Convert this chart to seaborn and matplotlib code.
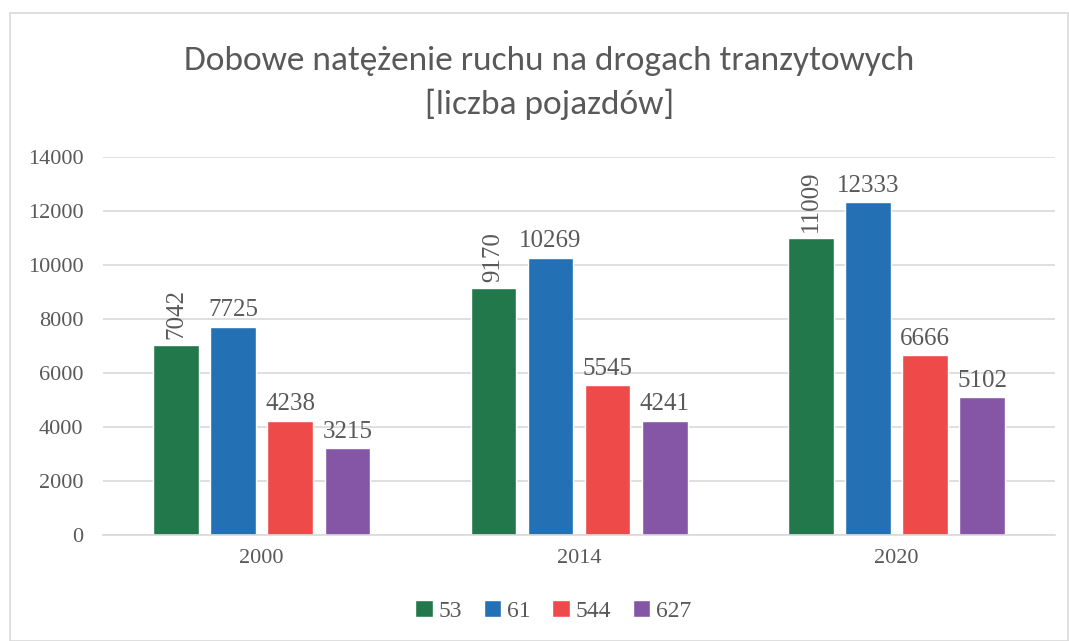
import numpy as np
import pandas as pd
import matplotlib
matplotlib.use("Agg")
import matplotlib.pyplot as plt
import seaborn as sns
from matplotlib.patches import Rectangle

# ---- data ----
years = ["2000", "2014", "2020"]
roads = ["53", "61", "544", "627"]
road_53 = [7042, 9170, 11009]
road_61 = [7725, 10269, 12333]
road_544 = [4238, 5545, 6666]
road_627 = [3215, 4241, 5102]
colors = ["#23784b", "#2370b5", "#ef4a4a", "#8656a6"]

df = pd.DataFrame({
    "rok": years * 4,
    "droga": [r for r in roads for _ in years],
    "liczba": road_53 + road_61 + road_544 + road_627,
})

sns.set_theme(style="white")
plt.rcParams["font.family"] = ["Liberation Serif", "DejaVu Serif"]
gray = "#595959"

fig = plt.figure(figsize=(10.69, 6.41), dpi=100)
ax = fig.add_axes([0.0964, 0.165, 0.8906, 0.59])

sns.barplot(data=df, x="rok", y="liczba", hue="droga", hue_order=roads,
            palette=colors, width=0.72, gap=0.2, ax=ax, saturation=1,
            errorbar=None, legend=True)

for i, cont in enumerate(ax.containers):
    if i == 0:
        ax.bar_label(cont, labels=[str(v) for v in road_53], rotation=90,
                     padding=4, fontsize=18, color=gray)
    else:
        ax.bar_label(cont, padding=4, fontsize=18, color=gray)

ax.set_ylim(0, 14000)
ax.set_yticks(np.arange(0, 14001, 2000))
ax.yaxis.grid(True, color="#d9d9d9", linewidth=1.2)
ax.set_axisbelow(True)
for s in ["top", "right", "left"]:
    ax.spines[s].set_visible(False)
ax.spines["bottom"].set_color("#d9d9d9")
ax.spines["bottom"].set_linewidth(1.2)
ax.tick_params(axis="both", length=0, labelsize=16, labelcolor=gray)
ax.tick_params(axis="x", pad=10)
ax.tick_params(axis="y", pad=14)
ax.set_xlabel("")
ax.set_ylabel("")

handles, labels = ax.get_legend_handles_labels()
ax.legend(handles, labels, loc="center", bbox_to_anchor=(0.473, -0.2),
          ncol=4, frameon=False, fontsize=17, labelcolor=gray,
          handlelength=0.75, handleheight=0.75, handletextpad=0.25,
          columnspacing=0.9)

fig.text(0.514, 0.905, "Dobowe natężenie ruchu na drogach tranzytowych",
         ha="center", va="center", fontsize=25.5, color=gray,
         family=["Carlito", "DejaVu Sans"])
fig.text(0.514, 0.838, "[liczba pojazdów]",
         ha="center", va="center", fontsize=25.5, color=gray,
         family=["Carlito", "DejaVu Sans"])

fig.patches.append(Rectangle((10 / 1069, 0), 1 - 10 / 1069 - 0.001, 1 - 13 / 641,
                             transform=fig.transFigure, fill=False,
                             edgecolor="#d9d9d9", linewidth=1.2))

fig.savefig("out.png", dpi=100)
